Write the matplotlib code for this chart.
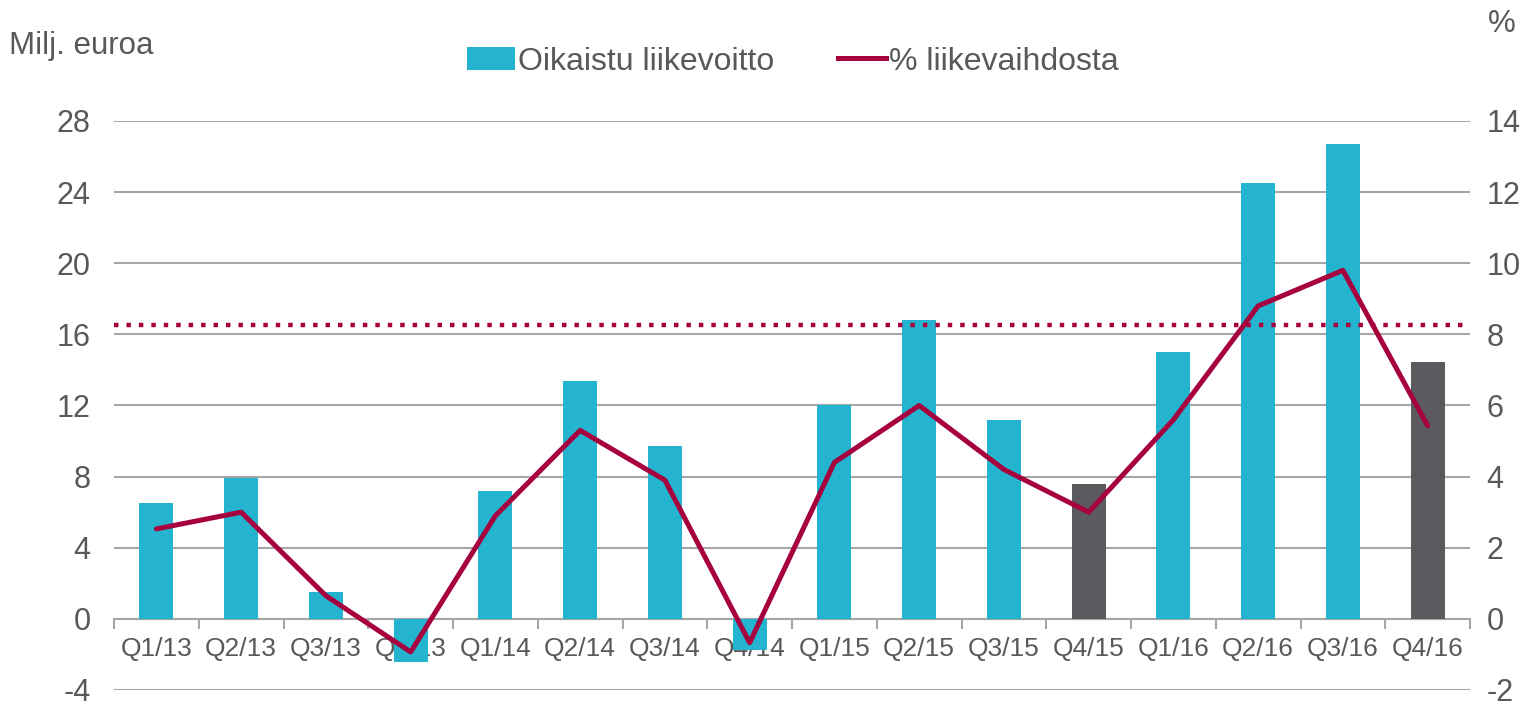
import matplotlib.pyplot as plt
from matplotlib.patches import Patch
from matplotlib.lines import Line2D

# Data
quarters = ['Q1/13', 'Q2/13', 'Q3/13', 'Q4/13', 'Q1/14', 'Q2/14', 'Q3/14', 'Q4/14',
            'Q1/15', 'Q2/15', 'Q3/15', 'Q4/15', 'Q1/16', 'Q2/16', 'Q3/16', 'Q4/16']
profit = [6.5, 7.9, 1.5, -2.4, 7.2, 13.4, 9.7, -1.75,
          12.0, 16.8, 11.2, 7.6, 15.0, 24.5, 26.7, 14.45]
margin = [2.53, 3.0, 0.65, -0.93, 2.9, 5.3, 3.9, -0.67,
          4.4, 6.0, 4.2, 3.0, 5.6, 8.8, 9.8, 5.43]
highlight = ['Q4/15', 'Q4/16']
target_margin = 8.25

TEAL = '#25B4CF'
DARK = '#5A5A5F'
CRIMSON = '#A6003F'
GRID = '#A6A6A6'
TEXT = '#595959'

plt.rcParams['font.family'] = ['Liberation Sans', 'DejaVu Sans']
plt.rcParams['axes.unicode_minus'] = False

fig = plt.figure(figsize=(15.39, 7.01), dpi=100)
ax = fig.add_axes([0.0741, 0.0157, 0.8811, 0.8117])
ax2 = ax.twinx()

x = list(range(len(quarters)))
colors = [DARK if q in highlight else TEAL for q in quarters]
ax.bar(x, profit, width=0.4, color=colors, zorder=3)

ax.set_xlim(-0.5, len(quarters) - 0.5)
ax.set_ylim(-4, 28)
ax.set_yticks(range(-4, 29, 4))
ax.grid(axis='y', color=GRID, lw=1.5, zorder=0)
ax.set_axisbelow(True)

for s in ['top', 'right', 'left']:
    ax.spines[s].set_visible(False)
ax.spines['bottom'].set_position(('data', 0))
ax.spines['bottom'].set_color(GRID)
ax.spines['bottom'].set_linewidth(1.5)

ax.set_xticks(x)
ax.set_xticklabels(quarters)
ax.set_xticks([i - 0.5 for i in range(len(quarters) + 1)], minor=True)
ax.tick_params(axis='x', which='major', length=0, pad=13, labelsize=19, labelcolor=TEXT)
ax.tick_params(axis='x', which='minor', length=7, width=1.5, color=GRID, direction='out')
ax.tick_params(axis='y', length=0, pad=17, labelsize=22, labelcolor=TEXT)

ax2.plot(x, margin, color=CRIMSON, lw=3.6, solid_capstyle='round', solid_joinstyle='round', zorder=5)
ax2.axhline(target_margin, color=CRIMSON, lw=3.2, dashes=(1, 1.8), dash_capstyle='butt')
ax2.set_ylim(-2, 14)
ax2.set_yticks(range(-2, 15, 2))
ax2.tick_params(axis='y', length=0, pad=12, labelsize=22, labelcolor=TEXT)
for s in ax2.spines.values():
    s.set_visible(False)

fig.text(0.006, 0.935, 'Milj. euroa', fontsize=22.5, color=TEXT, va='center', ha='left')
fig.text(0.976, 0.966, '%', fontsize=22.5, color=TEXT, va='center', ha='center')

handles = [Patch(facecolor=TEAL, edgecolor='none'),
           Line2D([0], [0], color=CRIMSON, lw=3.6)]
fig.legend(handles, ['Oikaistu liikevoitto', '% liikevaihdosta'],
           loc='center', bbox_to_anchor=(0.515, 0.912), ncol=2, frameon=False,
           fontsize=23, labelcolor=TEXT, handlelength=1.5, handleheight=0.75,
           handletextpad=0.1, columnspacing=2.0)

fig.savefig('out.png', dpi=100)
